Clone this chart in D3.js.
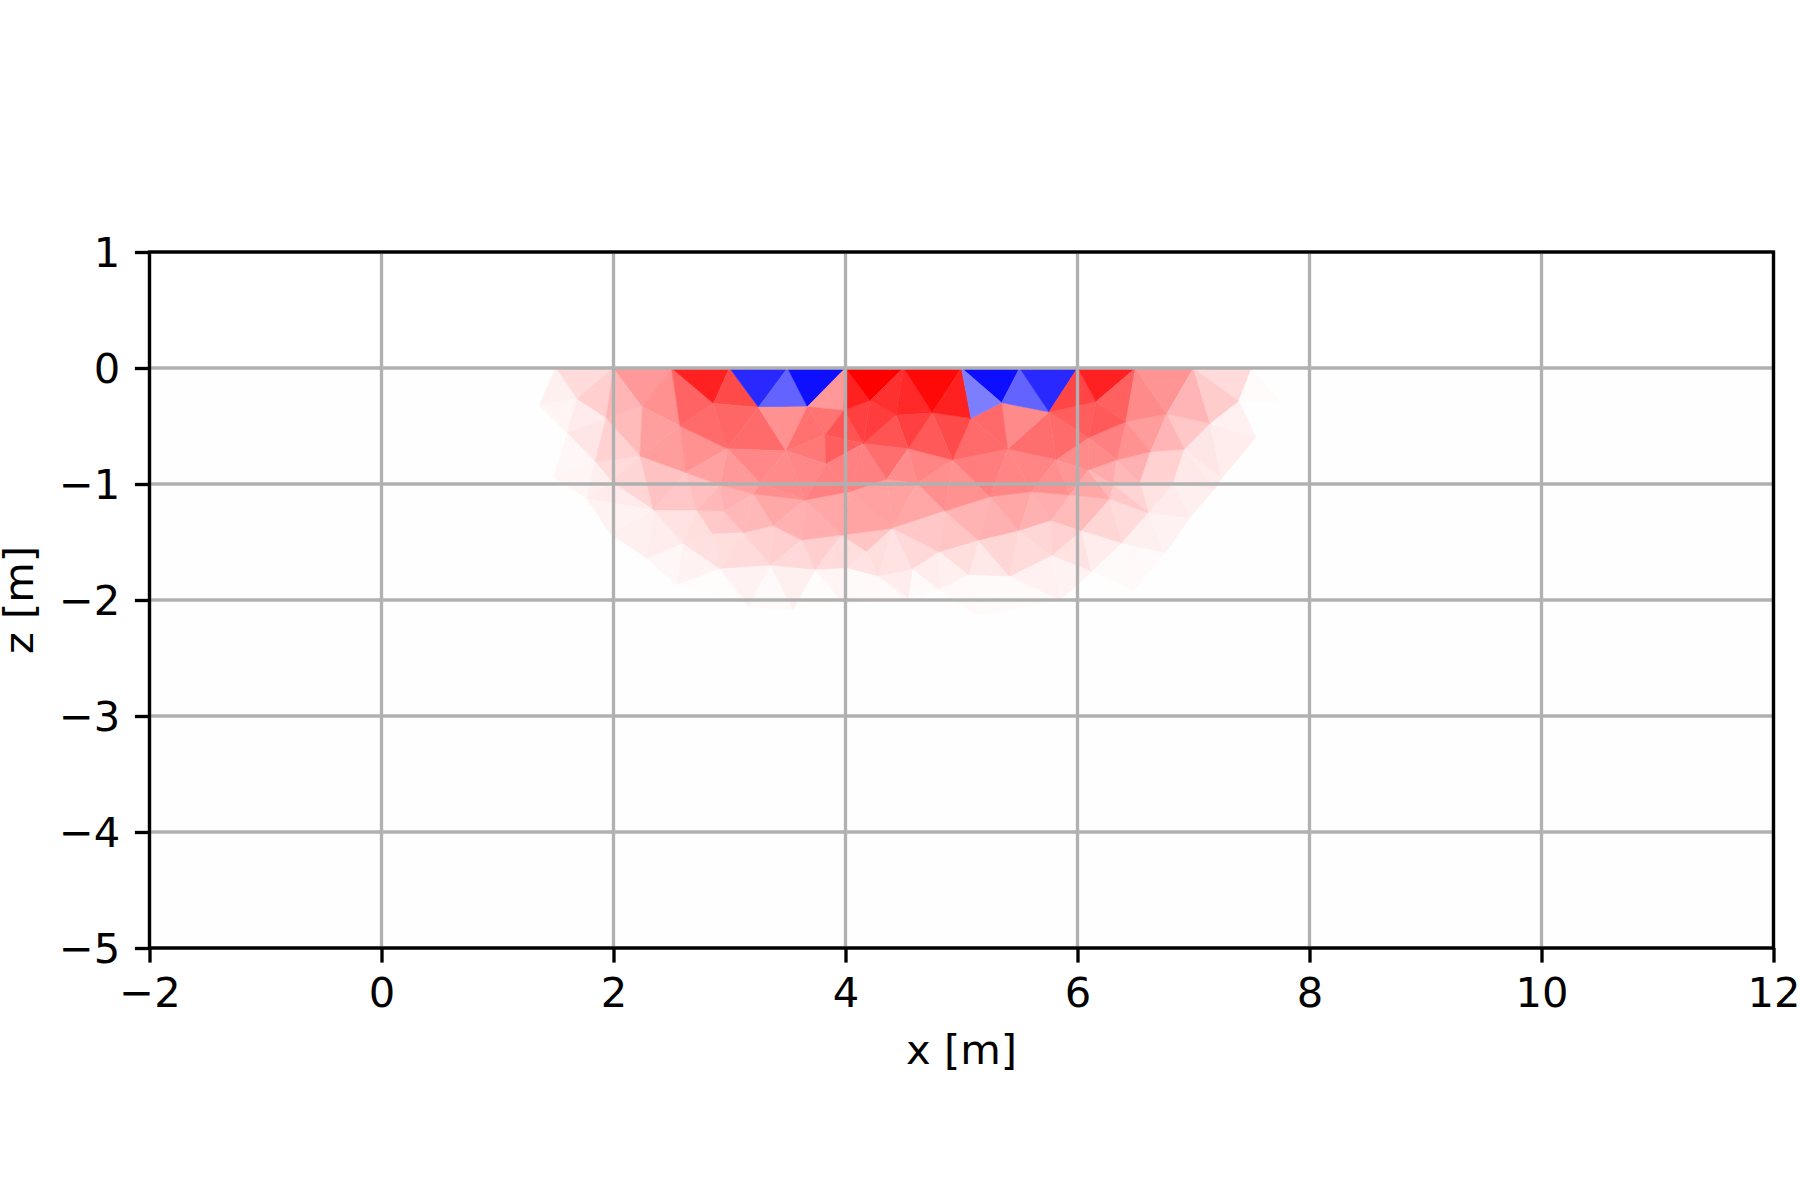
<!DOCTYPE html>
<html><head><meta charset="utf-8">
<script src="https://cdnjs.cloudflare.com/ajax/libs/d3/7.8.5/d3.min.js"></script>
<style>html,body{margin:0;padding:0;background:#fff}svg{display:block}text{font-family:"DejaVu Sans";fill:#000}</style>
</head><body><svg id="c" width="1800" height="1200"></svg>
<script>
const xTicks=[-2,0,2,4,6,8,10,12];
const zTicks=[1,0,-1,-2,-3,-4,-5];
const xLabel="x [m]", zLabel="z [m]";
const nodeX=[1.5,2,2.5,3,3.5,4,4.5,5,5.5,6,6.5,7,7.5,
1.361,1.683,1.935,2.249,2.861,3.249,3.671,3.987,4.211,4.435,4.749,5.082,5.346,5.754,6.160,6.418,6.769,7.142,7.392,7.746,
1.602,1.841,2.228,2.573,2.981,3.487,3.823,3.832,4.154,4.542,4.924,5.398,5.815,6.093,6.338,6.630,6.921,7.536,7.243,
1.481,1.769,2.343,2.622,2.918,3.263,3.205,3.651,4.039,4.355,4.619,4.858,5.246,5.605,5.935,6.093,6.280,6.611,6.826,6.970,7.185,
1.970,2.602,2.717,2.953,2.855,3.119,3.378,3.622,3.967,4.407,4.809,5.145,5.496,5.769,6.036,5.777,6.381,6.754,
2.286,2.545,2.918,3.349,3.737,4.183,4.010,4.283,4.576,5.059,5.418,6.122,6.481,
3.162,3.545,3.981,4.542,4.809,5.131,5.849,1.984,6.539,6.309];
const nodeZ=[0,0,0,0,0,0,0,0,0,0,0,0,0,
-0.319,-0.267,-0.434,-0.334,-0.305,-0.339,-0.334,-0.365,-0.282,-0.405,-0.385,-0.434,-0.299,-0.379,-0.290,-0.463,-0.397,-0.477,-0.282,-0.290,
-0.563,-0.808,-0.759,-0.500,-0.696,-0.713,-0.578,-0.828,-0.650,-0.693,-0.793,-0.698,-0.788,-0.601,-0.793,-0.721,-0.701,-0.598,-0.951,
-0.937,-1.124,-1.224,-0.900,-1.009,-0.994,-1.086,-1.138,-1.066,-0.960,-0.994,-1.233,-1.109,-1.066,-1.095,-0.879,-1.130,-1.247,-0.994,-1.290,-1.038,
-1.426,-1.512,-1.224,-1.236,-1.431,-1.420,-1.359,-1.483,-1.440,-1.382,-1.589,-1.489,-1.405,-1.319,-1.405,-1.621,-1.512,-1.598,
-1.641,-1.871,-1.733,-1.704,-1.742,-1.584,-1.727,-1.799,-1.736,-1.785,-1.799,-1.756,-1.914,
-2.058,-2.086,-2.029,-1.986,-1.914,-2.129,-2.000,-0.980,-0.989,-1.009];
const triangles=[
[0,1,14],[1,14,15],[0,13,14],[13,14,33],[14,15,33],[15,33,34],[33,34,52],[34,52,53],[34,35,111],[34,111,53],[35,111,54],[111,53,54],[53,54,73],[54,73,91],[54,74,91],[91,74,92],
[74,92,93],[74,77,93],[54,75,74],[75,77,74],[75,76,77],[76,78,77],[77,78,93],[78,94,93],[78,79,94],[79,80,94],[80,95,94],[80,81,95],[81,97,95],[81,96,97],[81,82,96],[96,82,98],[82,99,98],[82,83,99],
[35,55,54],[55,75,54],[55,56,75],[56,76,75],[56,58,76],[58,78,76],[58,79,78],[58,59,79],[59,80,79],[59,81,80],[59,60,81],[60,82,81],[60,61,82],[61,62,82],[62,63,82],[63,83,82],[63,84,83],[63,64,84],[64,85,84],[64,65,85],[65,86,85],[65,66,86],[66,87,86],[66,68,87],[68,89,87],[68,69,89],[69,90,89],[69,71,90],[70,71,69],[70,72,71],
[84,101,100],[84,85,101],[85,88,101],[85,86,88],[86,87,88],[87,102,88],[87,89,102],[89,103,102],[89,90,103],[88,102,110],[88,110,101],[100,101,109],[101,110,109],[83,100,84],[83,108,100],[83,99,108],[99,107,108],[108,100,109],[98,99,107],[97,98,96],[97,106,98],[98,106,107],[95,97,106],[95,105,106],[94,95,105],[94,104,105],[93,94,104],[92,93,104],
[1,15,16],[15,16,35],[15,34,35],[1,2,16],[2,16,36],[2,17,36],[2,3,17],[3,17,18],[3,4,18],[4,18,19],[4,5,19],[5,19,20],
[16,36,35],[36,55,35],[36,37,55],[17,37,36],[17,18,37],[18,38,37],[18,19,38],[19,39,38],[19,20,39],[20,41,39],[38,39,40],[39,41,40],[37,38,57],[37,56,57],[55,37,56],[38,57,59],[57,58,59],[56,57,58],[38,40,59],[40,60,59],[40,41,60],[41,61,60],[41,42,61],[42,62,61],[42,43,62],[43,63,62],[43,64,63],[43,44,64],[44,65,64],[44,45,65],[45,66,65],[45,67,66],[67,68,66],
[67,47,113],[67,113,68],[47,112,113],[47,48,112],[48,70,112],[112,70,69],[113,112,69],[113,69,68],
[48,49,70],[49,72,70],[49,51,72],[49,30,51],[30,50,51],[30,31,50],
[29,30,49],[28,29,48],[29,49,48],[28,48,47],[46,28,47],[46,47,67],[45,46,67],[26,46,45],[26,27,46],[27,28,46],[44,26,45],[25,26,44],[24,25,44],[24,44,43],[23,24,43],[42,23,43],[22,23,42],[22,42,41],[21,22,41],[20,21,41],
[5,21,20],[5,6,21],[6,22,21],[6,23,22],[6,7,23],[7,24,23],[7,8,25],[7,25,24],[8,26,25],[8,9,26],[9,27,26],[9,10,27],[10,28,27],[10,29,28],[10,11,29],[11,30,29],[11,31,30],[11,12,31],[12,32,31]
];
const triValues=[
.14,.19,.06,.04,.08,.10,.03,.04,.14,.06,.16,.08,.05,.06,.07,.03,
.05,.12,.11,.13,.21,.22,.13,.14,.18,.19,.15,.19,.14,.13,.23,.13,.11,.15,
.24,.22,.25,.28,.31,.28,.28,.34,.31,.32,.35,.36,.37,.37,.35,.22,.23,.30,.31,.35,.31,.32,.27,.27,.16,.14,.06,.05,.08,.06,
.09,.16,.14,.16,.18,.11,.07,.02,.025,.05,.055,.02,.02,.13,.06,.07,.02,.025,.07,.11,.02,.025,.04,.01,.06,.02,.05,.01,
.29,.27,.18,.40,.43,.61,.87,.71,-.84,-.61,-.94,.40,
.38,.39,.43,.58,.60,.58,.43,.56,.55,.67,.53,.63,.47,.40,.37,.46,.44,.38,.47,.50,.50,.50,.57,.45,.48,.44,.43,.51,.48,.48,.44,.41,.35,
.33,.28,.28,.31,.18,.11,.17,.22,
.18,.09,.08,.10,.07,.055,
.22,.39,.29,.43,.50,.46,.46,.58,.63,.65,.57,.46,.59,.58,.71,.65,.75,.67,.76,.75,
.875,1,.81,.84,.97,.875,-.95,-.51,-.61,-.84,.73,.87,.62,.46,.42,.29,.20,.14,.015
];

const left=149.5,right=1773.5,top_=252,bottom=948;
const x=d3.scaleLinear().domain([-2,12]).range([left,right]);
const z=d3.scaleLinear().domain([-5,1]).range([bottom,top_]);
const colour=d3.scaleLinear().domain([-1,0,1]).range(["#0000ff","#ffffff","#ff0000"]);
const svg=d3.select("#c");

svg.append("rect").attr("x",x(-2)).attr("y",z(0)).attr("width",x(12)-x(-2)).attr("height",z(-5)-z(0)).attr("fill","#fefefe");

svg.append("g").selectAll("path").data(triangles).join("path")
  .attr("d",t=>"M"+t.map(i=>x(nodeX[i])+","+z(nodeZ[i])).join("L")+"Z")
  .attr("fill",(t,i)=>colour(triValues[i]))
  .attr("stroke",(t,i)=>colour(triValues[i]))
  .attr("stroke-width",0.5)
  .attr("stroke-linejoin","round");

const grid=svg.append("g").attr("stroke","#b0b0b0").attr("stroke-width",3.33);
grid.selectAll("line.v").data(xTicks).join("line").attr("class","v")
  .attr("x1",d=>x(d)).attr("x2",d=>x(d)).attr("y1",top_).attr("y2",bottom);
grid.selectAll("line.h").data(zTicks).join("line").attr("class","h")
  .attr("y1",d=>z(d)).attr("y2",d=>z(d)).attr("x1",left).attr("x2",right);

const fmt=d=>String(d).replace("-","\u2212");
const ax=svg.append("g").attr("transform",`translate(0,${bottom})`)
  .call(d3.axisBottom(x).tickValues(xTicks).tickFormat(fmt).tickSize(14.6).tickPadding(14.6));
const ay=svg.append("g").attr("transform",`translate(${left},0)`)
  .call(d3.axisLeft(z).tickValues(zTicks).tickFormat(fmt).tickSize(14.6).tickPadding(14.6));
[ax,ay].forEach(a=>{
  a.selectAll(".tick line").attr("stroke","#000").attr("stroke-width",3.33);
  a.selectAll(".domain").remove();
  a.selectAll("text").attr("font-family","DejaVu Sans").attr("font-size",41.67).attr("fill","#000");
});
ax.selectAll("text").attr("dy",null).attr("y",14.6+14.6+30);
ay.selectAll("text").attr("dy","0.34em");

svg.append("rect").attr("x",left).attr("y",top_).attr("width",right-left).attr("height",bottom-top_)
  .attr("fill","none").attr("stroke","#000").attr("stroke-width",3.33).attr("stroke-linecap","square");

svg.append("text").attr("x",(left+right)/2).attr("y",1064).attr("text-anchor","middle").attr("font-size",41.67).text(xLabel);
svg.append("text").attr("transform",`translate(33,600) rotate(-90)`).attr("text-anchor","middle").attr("font-size",41.67).text(zLabel);
</script></body></html>
